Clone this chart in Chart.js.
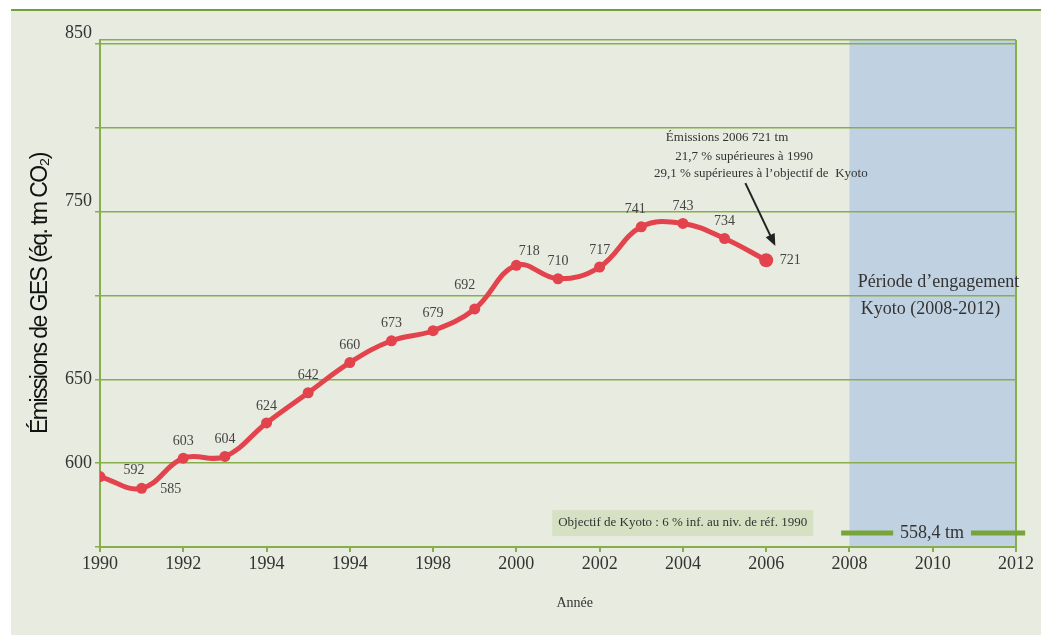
<!DOCTYPE html>
<html>
<head>
<meta charset="utf-8">
<script src="https://cdn.jsdelivr.net/npm/chart.js@4"></script>
<style>
  html, body { margin: 0; padding: 0; background: #fff; }
  #wrap { width: 1041px; height: 635px; position: relative; }
</style>
</head>
<body>
<div id="wrap"><canvas id="ges" width="1041" height="635"></canvas></div>
<script>
const years = [1990, 1991, 1992, 1993, 1994, 1995, 1996, 1997, 1998, 1999, 2000, 2001, 2002, 2003, 2004, 2005, 2006];
const emissions = [592, 585, 603, 604, 624, 642, 660, 673, 679, 692, 718, 710, 717, 741, 743, 734, 721];
// tick labels as printed on the original (note the repeated 1994)
const xTickText = ['1990', '1992', '1994', '1994', '1998', '2000', '2002', '2004', '2006', '2008', '2010', '2012'];
const yGridValues = [550, 600, 650, 700, 750, 800, 850];
const yTickShown = [600, 650, 750, 850];
const yTickRaised = [750, 850];
const kyotoStart = 2008;
const kyotoEnd = 2012;
const kyotoTarget = 558.4;

const SERIF = '"Liberation Serif", "Times New Roman", serif';
const GREEN = '#88ad4d';
const RED = '#e2434d';
const TEXT = '#333333';

// small per-point nudges for the value labels
const labelNudge = {
  0: [34, -6], 1: [29, 1], 9: [-10, -24], 10: [13, -14], 13: [-6, -17], 16: [24, 0],
};

const decor = {
  id: 'decor',
  beforeDraw(chart) {
    const c = chart.ctx;
    const { chartArea: a, scales: { x } } = chart;
    c.save();
    // page background
    c.fillStyle = '#ffffff';
    c.fillRect(0, 0, chart.width, chart.height);
    c.fillStyle = '#e8ebdf';
    c.fillRect(11, 10, chart.width - 11, chart.height - 10);
    c.strokeStyle = '#6fa03a';
    c.lineWidth = 2;
    c.beginPath();
    c.moveTo(11, 10);
    c.lineTo(chart.width, 10);
    c.stroke();
    // Kyoto commitment period
    c.fillStyle = '#c0d2e2';
    const x0 = x.getPixelForValue(kyotoStart);
    const x1 = x.getPixelForValue(kyotoEnd);
    c.fillRect(x0, a.top, x1 - x0, a.bottom - a.top);

    // y axis title, condensed like the original
    c.translate(41, (a.top + a.bottom) / 2);
    c.rotate(-Math.PI / 2);
    c.font = '23px "Liberation Sans", Arial, sans-serif';
    c.letterSpacing = '-1.6px';
    c.fillStyle = '#111';
    c.textAlign = 'center';
    c.textBaseline = 'middle';
    c.fillText('Émissions de GES (éq. tm CO\u2082)', 0, 0);
    c.restore();
  },
  afterDatasetsDraw(chart) {
    const c = chart.ctx;
    const { x, y } = chart.scales;
    const px = v => x.getPixelForValue(v);
    const py = v => y.getPixelForValue(v);
    c.save();

    // value labels
    const meta = chart.getDatasetMeta(0);
    c.font = '14px ' + SERIF;
    c.fillStyle = '#444';
    c.textAlign = 'center';
    c.textBaseline = 'middle';
    meta.data.forEach((pt, i) => {
      const n = labelNudge[i] || [0, -17];
      c.fillText(String(emissions[i]), pt.x + n[0], pt.y + n[1]);
    });

    // 2006 note + arrow
    c.font = '13px ' + SERIF;
    c.fillStyle = TEXT;
    c.fillText('Émissions 2006 721 tm', px(2005.06), py(794));
    c.fillText('21,7 % supérieures à 1990', px(2005.47), py(783));
    c.fillText('29,1 % supérieures à l\u2019objectif de  Kyoto', px(2005.87), py(773));

    const ax0 = px(2005.5), ay0 = py(767);
    const ax1 = px(2006.22), ay1 = py(729.5);
    const ang = Math.atan2(ay1 - ay0, ax1 - ax0);
    c.strokeStyle = '#222';
    c.fillStyle = '#222';
    c.lineWidth = 2;
    c.beginPath();
    c.moveTo(ax0, ay0);
    c.lineTo(ax1 - 8 * Math.cos(ang), ay1 - 8 * Math.sin(ang));
    c.stroke();
    c.beginPath();
    c.moveTo(ax1, ay1);
    c.lineTo(ax1 - 12 * Math.cos(ang) + 5 * Math.sin(ang), ay1 - 12 * Math.sin(ang) - 5 * Math.cos(ang));
    c.lineTo(ax1 - 12 * Math.cos(ang) - 5 * Math.sin(ang), ay1 - 12 * Math.sin(ang) + 5 * Math.cos(ang));
    c.closePath();
    c.fill();

    // Kyoto period label
    c.font = '18px ' + SERIF;
    c.fillStyle = TEXT;
    c.textAlign = 'left';
    c.fillText('Période d\u2019engagement', px(2008.2), py(708));
    c.fillText('Kyoto (2008-2012)', px(2008.27), py(692));

    // Kyoto target box
    const bx0 = px(2000.86), bx1 = px(2007.13);
    c.fillStyle = '#d6e1c4';
    c.fillRect(bx0, py(572), bx1 - bx0, py(556.5) - py(572));
    c.font = '13px ' + SERIF;
    c.fillStyle = TEXT;
    c.textAlign = 'center';
    c.fillText('Objectif de Kyoto : 6 % inf. au niv. de réf. 1990', (bx0 + bx1) / 2, py(564.3));

    // 558,4 tm target line
    c.strokeStyle = '#79a33b';
    c.lineWidth = 5;
    c.beginPath();
    c.moveTo(px(2007.8), py(kyotoTarget));
    c.lineTo(px(2009.05), py(kyotoTarget));
    c.moveTo(px(2010.92), py(kyotoTarget));
    c.lineTo(px(2012.22), py(kyotoTarget));
    c.stroke();
    c.font = '18px ' + SERIF;
    c.fillStyle = TEXT;
    c.fillText('558,4 tm', px(2009.98), py(kyotoTarget));

    // x axis title
    c.font = '14px ' + SERIF;
    c.fillText('Année', px(2001.4), 603);

    c.restore();
  },
};

new Chart(document.getElementById('ges'), {
  type: 'line',
  data: {
    datasets: [{
      data: years.map((yr, i) => ({ x: yr, y: emissions[i] })),
      borderColor: RED,
      backgroundColor: RED,
      borderWidth: 5,
      tension: 0.4,
      pointRadius: emissions.map((_, i) => i === emissions.length - 1 ? 7 : 5.5),
      pointBackgroundColor: RED,
      pointBorderWidth: 0,
    }],
  },
  options: {
    responsive: false,
    animation: false,
    layout: { padding: { left: 0, right: 25, top: 40, bottom: 0 } },
    plugins: { legend: { display: false }, tooltip: { enabled: false } },
    scales: {
      x: {
        type: 'linear',
        min: 1990,
        max: 2012,
        afterFit: s => { s.height = 88; },
        afterBuildTicks: s => {
          s.ticks = xTickText.map((_, i) => ({ value: 1990 + 2 * i }));
        },
        ticks: {
          color: TEXT,
          font: { family: SERIF, size: 18 },
          padding: 1,
          maxRotation: 0,
          callback: (v, i) => xTickText[i],
        },
        grid: {
          color: ctx => ctx.tick && ctx.tick.value === 2012 ? GREEN : 'rgba(0,0,0,0)',
          lineWidth: 2,
          drawTicks: true,
          tickLength: 5,
          tickColor: GREEN,
        },
        border: { color: GREEN, width: 2 },
      },
      y: {
        min: 550,
        max: 852.4,
        afterFit: s => { s.width = 100; },
        afterBuildTicks: s => {
          s.ticks = yGridValues.map(v => ({ value: v })).concat([{ value: s.max }]);
        },
        ticks: {
          color: TEXT,
          font: { family: SERIF, size: 18 },
          padding: 3,
          callback: v => {
            if (!yTickShown.includes(v)) return '';
            return yTickRaised.includes(v) ? [String(v), ''] : String(v);
          },
        },
        grid: {
          color: GREEN,
          lineWidth: 1.5,
          tickLength: 5,
          tickColor: ctx => ctx.tick && ctx.tick.value > 850 ? 'rgba(0,0,0,0)' : GREEN,
        },
        border: { color: GREEN, width: 2 },
      },
    },
  },
  plugins: [decor],
});
</script>
</body>
</html>
